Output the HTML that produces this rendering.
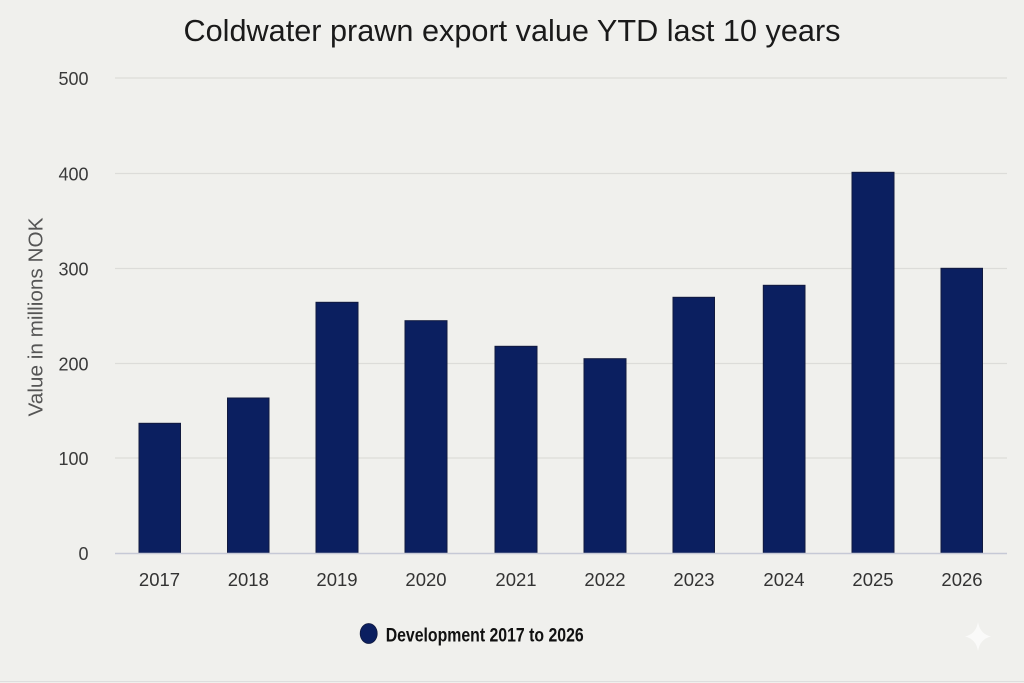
<!DOCTYPE html>
<html>
<head>
<meta charset="utf-8">
<style>
html,body{margin:0;padding:0;background:#f0f0ed;}
svg{display:block;}
</style>
</head>
<body>
<svg width="1024" height="683" viewBox="0 0 1024 683" xmlns="http://www.w3.org/2000/svg">
<rect x="0" y="0" width="1024" height="683" fill="#f0f0ed"/>
<!-- title -->
<text x="512" y="41" text-anchor="middle" font-family="Liberation Sans, Arial, sans-serif" font-size="30.5" fill="#1a1a1a" textLength="657" lengthAdjust="spacingAndGlyphs">Coldwater prawn export value YTD last 10 years</text>
<!-- gridlines -->
<g stroke="#dcdcd9" stroke-width="1.3">
<line x1="115" y1="78" x2="1007" y2="78"/>
<line x1="115" y1="173.5" x2="1007" y2="173.5"/>
<line x1="115" y1="268.5" x2="1007" y2="268.5"/>
<line x1="115" y1="363.5" x2="1007" y2="363.5"/>
<line x1="115" y1="458" x2="1007" y2="458"/>
</g>
<!-- y tick labels -->
<g font-family="Liberation Sans, Arial, sans-serif" font-size="18" fill="#3a3a3a" text-anchor="end">
<text x="88.5" y="85">500</text>
<text x="88.5" y="180.5">400</text>
<text x="88.5" y="275.5">300</text>
<text x="88.5" y="370.5">200</text>
<text x="88.5" y="465">100</text>
<text x="88.5" y="560">0</text>
</g>
<!-- y axis title -->
<text transform="translate(42.5,317) rotate(-90)" text-anchor="middle" font-family="Liberation Sans, Arial, sans-serif" font-size="20.5" fill="#555" textLength="199" lengthAdjust="spacingAndGlyphs">Value in millions NOK</text>
<!-- bars -->
<g fill="#0b1f60" stroke="#111a3f" stroke-width="1">
<rect x="139" y="423.3" width="41.5" height="130"/>
<rect x="227.5" y="398" width="41.5" height="155.3"/>
<rect x="316" y="302.3" width="42" height="251"/>
<rect x="405" y="320.7" width="42" height="232.6"/>
<rect x="495" y="346.3" width="42" height="207"/>
<rect x="584" y="358.7" width="42" height="194.6"/>
<rect x="673" y="297.3" width="41.5" height="256"/>
<rect x="763.3" y="285.3" width="41.7" height="268"/>
<rect x="852" y="172.3" width="42" height="381"/>
<rect x="941" y="268.3" width="41.5" height="285"/>
</g>
<!-- x axis -->
<line x1="115" y1="553.5" x2="1007" y2="553.5" stroke="#c6c9d6" stroke-width="1.5"/>
<!-- x labels -->
<g font-family="Liberation Sans, Arial, sans-serif" font-size="18.5" fill="#333" text-anchor="middle">
<text x="159.5" y="586">2017</text>
<text x="248.3" y="586">2018</text>
<text x="337" y="586">2019</text>
<text x="426" y="586">2020</text>
<text x="516" y="586">2021</text>
<text x="605" y="586">2022</text>
<text x="694" y="586">2023</text>
<text x="784" y="586">2024</text>
<text x="873" y="586">2025</text>
<text x="962" y="586">2026</text>
</g>
<!-- legend -->
<ellipse cx="368.7" cy="633.5" rx="8.5" ry="10" fill="#0b1f60" stroke="#111a3f" stroke-width="0.8"/>
<text x="385.7" y="641.5" font-family="Liberation Sans, Arial, sans-serif" font-weight="bold" font-size="19.5" fill="#111" textLength="198" lengthAdjust="spacingAndGlyphs">Development 2017 to 2026</text>
<!-- sparkle -->
<path d="M978,622 Q980,634 991,636.5 Q980,639 978,651 Q976,639 965,636.5 Q976,634 978,622 Z" fill="#fafaf9"/>
<line x1="0" y1="681.5" x2="1024" y2="681.5" stroke="#dedede" stroke-width="1"/>
</svg>
</body>
</html>
